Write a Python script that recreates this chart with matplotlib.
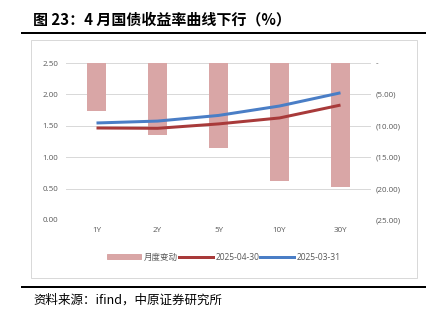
import matplotlib.pyplot as plt
from matplotlib.patches import Rectangle, Patch
from matplotlib.lines import Line2D
from matplotlib.ticker import FuncFormatter

plt.rcParams['font.family'] = ['Open Sans', 'Noto Sans CJK SC', 'DejaVu Sans']

# tenors and yields (%), monthly change in bp
tenors = ['1Y', '2Y', '5Y', '10Y', '30Y']
yield_0430 = [1.465, 1.46, 1.53, 1.625, 1.83]
yield_0331 = [1.545, 1.575, 1.665, 1.815, 2.025]
change_bp = [-7.7, -11.5, -13.5, -18.8, -19.7]

bar_color = '#D9A6A6'
red = '#A83A3A'
blue = '#4A7EC6'
grey_txt = '#595959'
cjk = ['Noto Sans CJK SC', 'DejaVu Sans']

fig = plt.figure(figsize=(6, 4.5), dpi=72)

# header / footer
fig.text(33 / 432, 1 - 20 / 324, '图 23：4 月国债收益率曲线下行（%）',
         fontsize=15, fontweight='bold', va='center', ha='left', family=cjk)
fig.add_artist(Line2D([22 / 432, 425 / 432], [1 - 33 / 324] * 2, color='black', lw=2))
fig.add_artist(Line2D([22 / 432, 425 / 432], [1 - 287 / 324] * 2, color='black', lw=2))
fig.text(33 / 432, 1 - 300 / 324, '资料来源：ifind，中原证券研究所',
         fontsize=12.5, va='center', ha='left', family=cjk)
fig.add_artist(Rectangle((31 / 432, 1 - 278 / 324), 386 / 432, 238 / 324,
                         transform=fig.transFigure, fill=False, ec='#D9D9D9', lw=1))

ax = fig.add_axes([66 / 432, 1 - 220 / 324, 305 / 432, 157 / 324])
ax2 = ax.twinx()
x = range(len(tenors))

# bars on the right axis, behind the lines
ax2.bar(x, change_bp, width=0.3, color=bar_color, zorder=2)
ax2.set_ylim(-25, 0)
ax2.set_yticks([0, -5, -10, -15, -20, -25])
ax2.yaxis.set_major_formatter(FuncFormatter(
    lambda v, p: '-' if v == 0 else '({:.2f})'.format(abs(v))))
ax2.grid(axis='y', color='#D9D9D9', lw=1, zorder=0)
ax2.set_axisbelow(True)

ax.plot(x, yield_0430, color=red, lw=3, solid_capstyle='butt')
ax.plot(x, yield_0331, color=blue, lw=3, solid_capstyle='butt')
ax.set_ylim(0, 2.5)
ax.set_yticks([0, 0.5, 1.0, 1.5, 2.0, 2.5])
ax.yaxis.set_major_formatter(FuncFormatter(lambda v, p: '{:.2f}'.format(v)))
ax.set_xlim(-0.5, 4.5)
ax.set_xticks(list(x))
ax.set_xticklabels(tenors)

ax.set_zorder(ax2.get_zorder() + 1)
ax.patch.set_visible(False)

for a in (ax, ax2):
    for s in a.spines.values():
        s.set_visible(False)
    a.tick_params(length=0, labelsize=8, labelcolor=grey_txt)
ax.tick_params(axis='y', pad=8)
ax.tick_params(axis='x', pad=7)
ax2.tick_params(axis='y', pad=5)

handles = [Patch(color=bar_color, label='月度变动'),
           Line2D([], [], color=red, lw=3, label='2025-04-30'),
           Line2D([], [], color=blue, lw=3, label='2025-03-31')]
fig.legend(handles=handles, loc='center', bbox_to_anchor=(224 / 432, 1 - 257 / 324),
           ncol=3, frameon=False, fontsize=8.5, handlelength=4, handleheight=0.6,
           handletextpad=0.3, columnspacing=0.1, labelcolor=grey_txt)

fig.savefig('out.png', dpi=72)
